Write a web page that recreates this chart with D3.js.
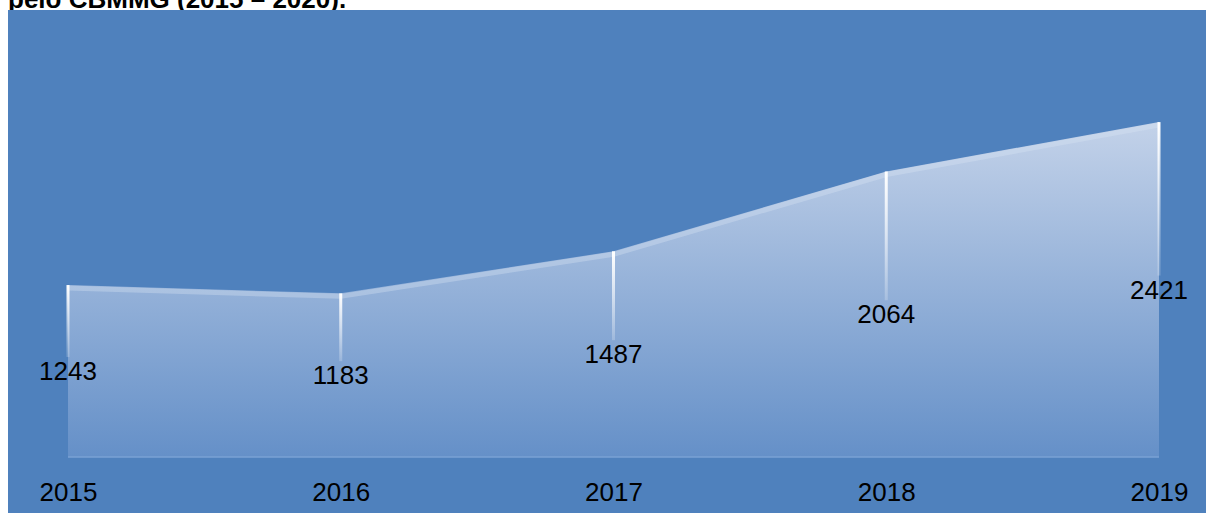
<!DOCTYPE html>
<html>
<head>
<meta charset="utf-8">
<script src="https://cdn.jsdelivr.net/npm/d3@7"></script>
<style>
  body { margin: 0; background: #fff; }
  svg { display: block; font-family: "Liberation Sans", Arial, sans-serif; }
</style>
</head>
<body>
<svg id="chart" width="1206" height="513"></svg>
<script>
  const titleText = 'pelo CBMMG (2015 – 2020).';
  const years = ['2015', '2016', '2017', '2018', '2019'];
  const values = [1243, 1183, 1487, 2064, 2421];
  const yMax = 3000;

  const width = 1206, height = 513;
  const svg = d3.select('#chart');

  // title, cut at the top like the source
  svg.append('text')
    .attr('x', 8).attr('y', 8)
    .attr('font-size', 26).attr('font-weight', 'bold')
    .attr('fill', '#000')
    .text(titleText);

  svg.append('rect')
    .attr('x', 8).attr('y', 10)
    .attr('width', width - 8).attr('height', height - 10)
    .attr('fill', '#4f81bd');

  const x = d3.scalePoint().domain(years).range([68, 1159]);
  const y = d3.scaleLinear().domain([0, yMax]).range([457, 42]);

  const defs = svg.append('defs');
  const grad = defs.append('linearGradient')
    .attr('id', 'areaFill')
    .attr('gradientUnits', 'userSpaceOnUse')
    .attr('x1', 0).attr('x2', 0)
    .attr('y1', y(d3.max(values))).attr('y2', y(0));
  grad.append('stop').attr('offset', '0%').attr('stop-color', '#c3d2e9');
  grad.append('stop').attr('offset', '100%').attr('stop-color', '#6590c8');

  const lineGrad = defs.append('linearGradient')
    .attr('id', 'dropFill')
    .attr('x1', 0).attr('x2', 0).attr('y1', 0).attr('y2', 1);
  lineGrad.append('stop').attr('offset', '0%').attr('stop-color', '#fff').attr('stop-opacity', 1);
  lineGrad.append('stop').attr('offset', '100%').attr('stop-color', '#fff').attr('stop-opacity', 0.2);

  const data = years.map((yr, i) => ({year: yr, value: values[i]}));

  const area = d3.area()
    .x(d => x(d.year))
    .y0(y(0))
    .y1(d => y(d.value));

  svg.append('path')
    .datum(data)
    .attr('d', area)
    .attr('fill', 'url(#areaFill)');

  // lighter band along the top edge
  const topLine = d3.line()
    .x(d => x(d.year))
    .y(d => y(d.value) + 3);
  svg.append('path')
    .datum(data)
    .attr('d', topLine)
    .attr('fill', 'none')
    .attr('stroke', '#dbe5f3')
    .attr('stroke-opacity', 0.35)
    .attr('stroke-width', 5);

  // baseline
  svg.append('line')
    .attr('x1', x(years[0])).attr('x2', x(years[years.length - 1]))
    .attr('y1', y(0)).attr('y2', y(0))
    .attr('stroke', '#7aa2d4').attr('stroke-width', 1.5);

  // drop lines
  svg.selectAll('.drop')
    .data(data)
    .enter().append('rect')
    .attr('class', 'drop')
    .attr('x', d => x(d.year) - 1.5)
    .attr('y', d => y(d.value))
    .attr('width', 3)
    .attr('height', d => y(d.value / 2) - y(d.value) - 14)
    .attr('fill', 'url(#dropFill)');

  // value labels
  svg.selectAll('.val')
    .data(data)
    .enter().append('text')
    .attr('class', 'val')
    .attr('x', d => x(d.year))
    .attr('y', d => y(d.value / 2))
    .attr('dy', '0.35em')
    .attr('text-anchor', 'middle')
    .attr('font-size', 26)
    .attr('fill', '#000')
    .text(d => d.value);

  // category labels
  const xAxis = d3.axisBottom(x).tickSize(0).tickPadding(0);
  const ax = svg.append('g')
    .attr('transform', 'translate(0,' + 483 + ')')
    .call(xAxis);
  ax.select('.domain').remove();
  ax.selectAll('text')
    .attr('font-size', 26)
    .attr('font-family', '"Liberation Sans", Arial, sans-serif')
    .attr('fill', '#000');
</script>
</body>
</html>
